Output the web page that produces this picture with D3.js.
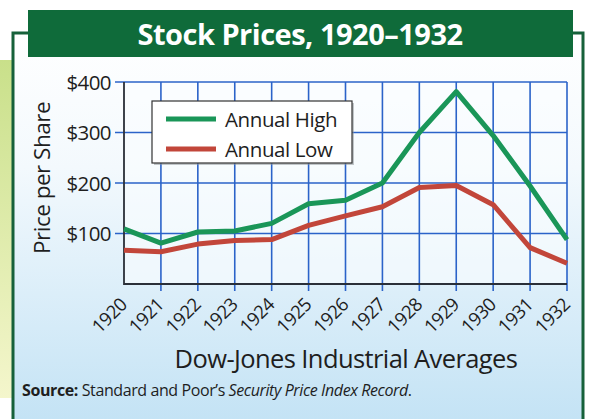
<!DOCTYPE html>
<html>
<head>
<meta charset="utf-8">
<script src="https://cdn.jsdelivr.net/npm/d3@7"></script>
<style>
  body { margin: 0; background: #fff; }
  svg { display: block; }
</style>
</head>
<body>
<div id="chart"></div>
<script>
// data
var years = [1920, 1921, 1922, 1923, 1924, 1925, 1926, 1927, 1928, 1929, 1930, 1931, 1932];
var annualHigh = [109, 81, 103, 105, 120, 159, 166, 200, 300, 381, 294, 194, 88];
var annualLow = [67, 64, 79, 86, 88, 116, 135, 153, 191, 195, 157, 72, 41];
var priceTicks = [100, 200, 300, 400];

function drawChart() {
    var W = 589, H = 419;
    var font = "'Open Sans', sans-serif";
    var svg = d3.select("#chart").append("svg").attr("width", W).attr("height", H);

    var defs = svg.append("defs");
    var bg = defs.append("linearGradient").attr("id", "bg").attr("x1", 0).attr("y1", 0).attr("x2", 0).attr("y2", 1);
    bg.append("stop").attr("offset", "0%").attr("stop-color", "#ffffff");
    bg.append("stop").attr("offset", "35%").attr("stop-color", "#f3f9fd");
    bg.append("stop").attr("offset", "100%").attr("stop-color", "#c4e3f5");
    var side = defs.append("linearGradient").attr("id", "side").attr("x1", 0).attr("y1", 0).attr("x2", 0).attr("y2", 1);
    side.append("stop").attr("offset", "0%").attr("stop-color", "#c9e08a");
    side.append("stop").attr("offset", "100%").attr("stop-color", "#f4f6cc");

    // page background and frame
    svg.append("rect").attr("x", 0).attr("y", 60).attr("width", 12).attr("height", 338).attr("fill", "url(#side)");
    svg.append("rect").attr("x", 13).attr("y", 33).attr("width", 570).attr("height", H - 33).attr("fill", "url(#bg)");
    var frame = "#16613a";
    svg.append("path")
        .attr("d", "M13,419 V33 H30 M570,33 H583 V419")
        .attr("fill", "none").attr("stroke", frame).attr("stroke-width", 3);

    // title banner
    svg.append("rect").attr("x", 28).attr("y", 10).attr("width", 545).attr("height", 47).attr("fill", "#0f6b3a");
    svg.append("text").attr("x", 300).attr("y", 45)
        .attr("text-anchor", "middle").attr("fill", "#fff")
        .style("font-family", font).style("font-weight", 700).style("font-size", "29px")
        .style("letter-spacing", "-0.5px")
        .text("Stock Prices, 1920\u20131932");

    var pLeft = 124, pRight = 567, pTop = 82, pBottom = 284;
    var x = d3.scalePoint().domain(years).range([pLeft, pRight]);
    var y = d3.scaleLinear().domain([0, 400]).range([pBottom, pTop]);

    var plot = svg.append("g");
    plot.append("rect").attr("x", pLeft).attr("y", pTop).attr("width", pRight - pLeft).attr("height", pBottom - pTop)
        .attr("fill", "#fafdff").attr("opacity", 0.6);

    var gridBlue = "#2b63c9";
    // vertical grid lines (run past the base as ticks)
    plot.selectAll(".vg").data(years.slice(1)).enter().append("line")
        .attr("x1", function(d){ return x(d); }).attr("x2", function(d){ return x(d); })
        .attr("y1", pTop).attr("y2", pBottom + 7)
        .attr("stroke", gridBlue).attr("stroke-width", 1.6);
    // horizontal grid lines (run past the axis as ticks)
    plot.selectAll(".hg").data(priceTicks).enter().append("line")
        .attr("x1", pLeft - 9).attr("x2", pRight)
        .attr("y1", function(d){ return y(d); }).attr("y2", function(d){ return y(d); })
        .attr("stroke", gridBlue).attr("stroke-width", 1.6);
    // axes
    plot.append("path")
        .attr("d", "M" + pLeft + "," + pTop + " V" + pBottom + " H" + pRight)
        .attr("fill", "none").attr("stroke", "#2a2f38").attr("stroke-width", 1.8);

    // y labels
    svg.selectAll(".yl").data(priceTicks).enter().append("text")
        .attr("x", 111).attr("y", function(d){ return y(d) + 7.5; })
        .attr("text-anchor", "end").attr("fill", "#1e1e1e")
        .style("font-family", font).style("font-size", "20.5px")
        .style("letter-spacing", "-0.6px")
        .text(function(d){ return "$" + d; });

    svg.append("text")
        .attr("transform", "translate(50,178) rotate(-90)")
        .attr("text-anchor", "middle").attr("fill", "#1e1e1e")
        .style("font-family", font).style("font-size", "22.5px")
        .style("letter-spacing", "-0.5px")
        .text("Price per Share");

    // x labels
    svg.selectAll(".xl").data(years).enter().append("text")
        .attr("transform", function(d){ return "translate(" + (x(d) + 4) + "," + 306 + ") rotate(-45)"; })
        .attr("text-anchor", "end").attr("fill", "#1e1e1e")
        .style("font-family", font).style("font-size", "18.5px")
        .style("letter-spacing", "-0.6px")
        .text(function(d){ return d; });

    svg.append("text").attr("x", 346).attr("y", 368)
        .attr("text-anchor", "middle").attr("fill", "#1e1e1e")
        .style("font-family", font).style("font-size", "25.5px")
        .style("letter-spacing", "-0.6px")
        .text("Dow-Jones Industrial Averages");

    var src = svg.append("text").attr("x", 22).attr("y", 396).attr("fill", "#1e1e1e")
        .style("font-family", font).style("font-size", "16px")
        .style("letter-spacing", "-0.4px");
    src.append("tspan").style("font-weight", 700).text("Source:");
    src.append("tspan").text(" Standard and Poor\u2019s ");
    src.append("tspan").style("font-style", "italic").text("Security Price Index Record");
    src.append("tspan").text(".");

    // lines
    var line = d3.line()
        .x(function(d, i){ return x(years[i]); })
        .y(function(d){ return y(d); });
    var highColor = "#1a9658", lowColor = "#c2463a";
    plot.append("path").datum(annualLow).attr("d", line)
        .attr("fill", "none").attr("stroke", lowColor).attr("stroke-width", 5).attr("stroke-linejoin", "round");
    plot.append("path").datum(annualHigh).attr("d", line)
        .attr("fill", "none").attr("stroke", highColor).attr("stroke-width", 5).attr("stroke-linejoin", "round");

    // legend
    var lg = svg.append("g").attr("transform", "translate(152,101)");
    lg.append("rect").attr("x", 2).attr("y", 2).attr("width", 200).attr("height", 62).attr("fill", "#8a8f94").attr("opacity", 0.5);
    lg.append("rect").attr("width", 200).attr("height", 62).attr("fill", "#fff").attr("stroke", "#333").attr("stroke-width", 1.2);
    var items = [{label: "Annual High", color: highColor}, {label: "Annual Low", color: lowColor}];
    items.forEach(function(it, i){
        var yy = 18 + i * 30;
        lg.append("line").attr("x1", 14).attr("x2", 64).attr("y1", yy).attr("y2", yy)
            .attr("stroke", it.color).attr("stroke-width", 5);
        lg.append("text").attr("x", 73).attr("y", yy + 8).attr("fill", "#1e1e1e")
            .style("font-family", font).style("font-size", "20.5px")
            .style("letter-spacing", "-0.4px")
            .text(it.label);
    });
}

drawChart();
</script>
</body>
</html>
